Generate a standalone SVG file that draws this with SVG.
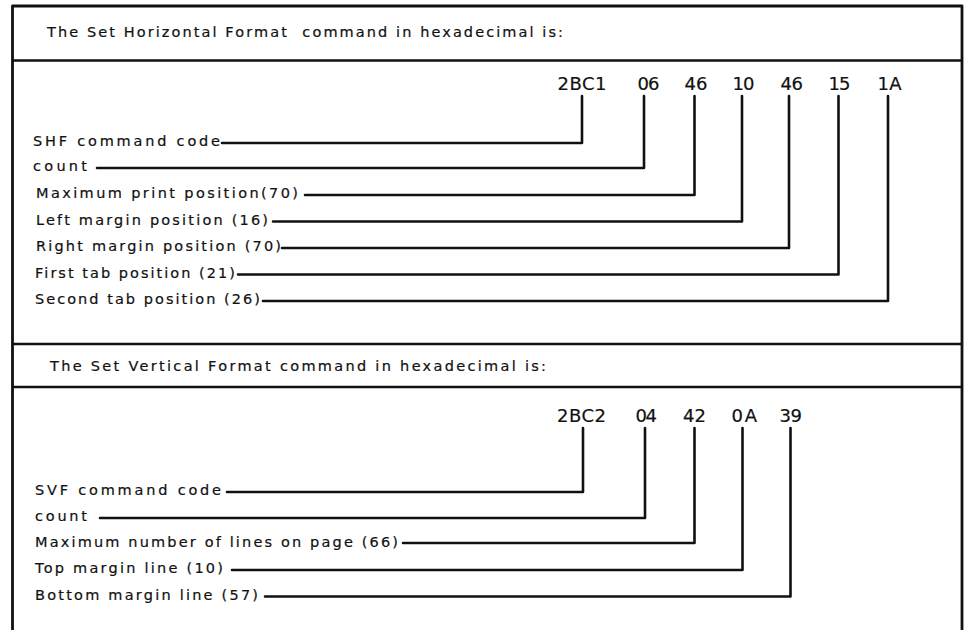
<svg xmlns="http://www.w3.org/2000/svg" width="964" height="630" viewBox="0 0 964 630">
<style>
.frame{fill:none;stroke:#111;stroke-width:2.8;stroke-linejoin:round}
.rule{fill:none;stroke:#111;stroke-width:2.4}
.lead{fill:none;stroke:#111;stroke-width:2.6;stroke-linejoin:round;stroke-linecap:round}
.title,.lbl,.hex{font-family:"DejaVu Sans","Liberation Sans",Arial,sans-serif;fill:#111;stroke:#111;stroke-width:0.2}
.title,.lbl{font-size:14.5px}
.hex{font-size:18px}
</style>
<rect width="964" height="630" fill="#fff"/>
<g id="frame">
<path class="frame" d="M12.5 632 V6 H962 V632"/>
<line class="rule" x1="12.5" y1="60.5" x2="962" y2="60.5"/>
<line class="rule" x1="12.5" y1="344" x2="962" y2="344"/>
<line class="rule" x1="12.5" y1="387" x2="962" y2="387"/>
</g>
<g id="shf-title"><text class="title" x="47" y="37" textLength="516" lengthAdjust="spacing" xml:space="preserve">The Set Horizontal Format  command in hexadecimal is:</text></g>
<g id="shf-hex">
<text class="hex" x="557.5" y="90" textLength="49" lengthAdjust="spacing">2BC1</text>
<text class="hex" x="637.5" y="90" textLength="22" lengthAdjust="spacing">06</text>
<text class="hex" x="684.5" y="90" textLength="23" lengthAdjust="spacing">46</text>
<text class="hex" x="732.5" y="90" textLength="22" lengthAdjust="spacing">10</text>
<text class="hex" x="780.5" y="90" textLength="22.5" lengthAdjust="spacing">46</text>
<text class="hex" x="828.5" y="90" textLength="22" lengthAdjust="spacing">15</text>
<text class="hex" x="877.5" y="90" textLength="24" lengthAdjust="spacing">1A</text>
</g>
<g id="shf-labels">
<text class="lbl" x="33" y="146" textLength="187" lengthAdjust="spacing">SHF command code</text>
<text class="lbl" x="33" y="171" textLength="54" lengthAdjust="spacing">count</text>
<text class="lbl" x="36" y="198" textLength="262" lengthAdjust="spacing">Maximum print position(70)</text>
<text class="lbl" x="36" y="224.5" textLength="232" lengthAdjust="spacing">Left margin position (16)</text>
<text class="lbl" x="36" y="251" textLength="245" lengthAdjust="spacing">Right margin position (70)</text>
<text class="lbl" x="35" y="277.5" textLength="200" lengthAdjust="spacing">First tab position (21)</text>
<text class="lbl" x="35" y="304" textLength="225" lengthAdjust="spacing">Second tab position (26)</text>
</g>
<g id="connectors-shf">
<path class="lead" d="M222 143 H582 V96"/>
<path class="lead" d="M97 168 H644 V96"/>
<path class="lead" d="M305 195 H694.5 V96"/>
<path class="lead" d="M273 221.5 H742 V96"/>
<path class="lead" d="M282 248 H789 V96"/>
<path class="lead" d="M238 274.5 H838.5 V96"/>
<path class="lead" d="M263 301 H888 V96"/>
</g>
<g id="svf-title"><text class="title" x="50" y="371" textLength="496" lengthAdjust="spacing">The Set Vertical Format command in hexadecimal is:</text></g>
<g id="svf-hex">
<text class="hex" x="557" y="422" textLength="49" lengthAdjust="spacing">2BC2</text>
<text class="hex" x="635.5" y="422" textLength="21.5" lengthAdjust="spacing">04</text>
<text class="hex" x="683" y="422" textLength="23" lengthAdjust="spacing">42</text>
<text class="hex" x="731.5" y="422" textLength="25.5" lengthAdjust="spacing">0A</text>
<text class="hex" x="779.5" y="422" textLength="22.5" lengthAdjust="spacing">39</text>
</g>
<g id="svf-labels">
<text class="lbl" x="35" y="495" textLength="186" lengthAdjust="spacing">SVF command code</text>
<text class="lbl" x="35" y="521" textLength="52" lengthAdjust="spacing">count</text>
<text class="lbl" x="35" y="546.5" textLength="363" lengthAdjust="spacing">Maximum number of lines on page (66)</text>
<text class="lbl" x="35" y="573" textLength="188" lengthAdjust="spacing">Top margin line (10)</text>
<text class="lbl" x="35" y="600" textLength="223" lengthAdjust="spacing">Bottom margin line (57)</text>
</g>
<g id="connectors-svf">
<path class="lead" d="M227 492 H583 V428"/>
<path class="lead" d="M100 518 H645 V428"/>
<path class="lead" d="M403 543 H694.5 V428"/>
<path class="lead" d="M232 570 H742.5 V428"/>
<path class="lead" d="M265 596.5 H790.5 V428"/>
</g>
</svg>
